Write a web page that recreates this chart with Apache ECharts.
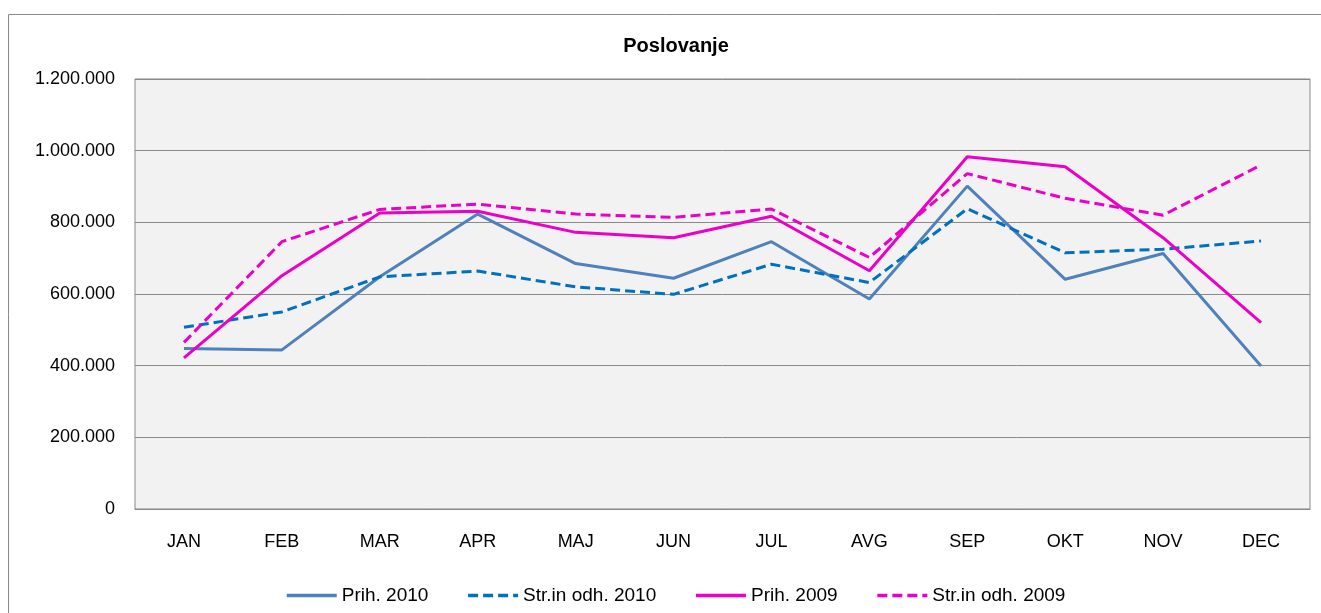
<!DOCTYPE html>
<html>
<head>
<meta charset="utf-8">
<script src="https://cdn.jsdelivr.net/npm/echarts@6/dist/echarts.min.js"></script>
<style>html,body{margin:0;padding:0;background:#fff;}#c{width:1321px;height:613px;}</style>
</head>
<body>
<div id="c"></div>
<script>
const categories = ['JAN','FEB','MAR','APR','MAJ','JUN','JUL','AVG','SEP','OKT','NOV','DEC'];
const prih2010 = [448000, 444000, 648000, 823000, 685000, 644000, 746000, 586000, 901000, 641000, 713000, 399000];
const str2010  = [507000, 550000, 648000, 664000, 620000, 599000, 683000, 632000, 838000, 715000, 725000, 748000];
const prih2009 = [422000, 651000, 826000, 831000, 772000, 757000, 817000, 665000, 983000, 955000, 757000, 520000];
const str2009  = [465000, 746000, 836000, 851000, 823000, 814000, 837000, 702000, 936000, 867000, 820000, 960000];
const seriesNames = ['Prih. 2010','Str.in odh. 2010','Prih. 2009','Str.in odh. 2009'];

const FONT = '"Liberation Sans", Arial, sans-serif';
function fmt(v){ return String(v).replace(/\B(?=(\d{3})+(?!\d))/g, '.'); }

const chart = echarts.init(document.getElementById('c'), null, {renderer:'canvas'});
function line(name, data, color, dashed){
  return {
    name, type:'line', data, symbol:'none', smooth:false,
    lineStyle:{color, width:3, type: dashed ? [10,5] : 'solid', cap:'butt'},
    itemStyle:{color},
    emphasis:{disabled:true}
  };
}
chart.setOption({
  animation:false,
  backgroundColor:'#ffffff',
  graphic:[{type:'rect', shape:{x:8.5,y:14.5,width:1330,height:620}, style:{fill:'none', stroke:'#898989', lineWidth:1}, silent:true, z:-1}],
  title:{text:'Poslovanje', left:671, textAlign:'center', top:31, textStyle:{fontFamily:FONT, fontSize:20, fontWeight:'bold', color:'#000'}},
  grid:{left:135, top:79, width:1175, height:430, show:true, backgroundColor:'#F2F2F2', borderColor:'#898989', borderWidth:1},
  legend:{left:280, top:581, itemWidth:50, itemHeight:14, itemGap:38,
    itemStyle:{opacity:0},
    lineStyle:{width:3.5},
    textStyle:{fontFamily:FONT, fontSize:19, color:'#000'},
    data: seriesNames.map(n=>({name:n}))},
  xAxis:{type:'category', data:categories, boundaryGap:true,
    axisLine:{show:true, lineStyle:{color:'#898989', width:1}},
    axisTick:{show:false},
    axisLabel:{fontFamily:FONT, fontSize:18, color:'#000', margin:24}},
  yAxis:{type:'value', min:0, max:1200000, interval:200000,
    axisLine:{show:false}, axisTick:{show:false},
    splitLine:{lineStyle:{color:'#898989', width:1}},
    axisLabel:{fontFamily:FONT, fontSize:18, color:'#000', margin:20, formatter:fmt}},
  series:[
    line(seriesNames[0], prih2010, '#4F81BD', false),
    line(seriesNames[1], str2010, '#0070C0', true),
    line(seriesNames[2], prih2009, '#EC00C8', false),
    line(seriesNames[3], str2009, '#EC00C8', true)
  ]
});
</script>
</body>
</html>
